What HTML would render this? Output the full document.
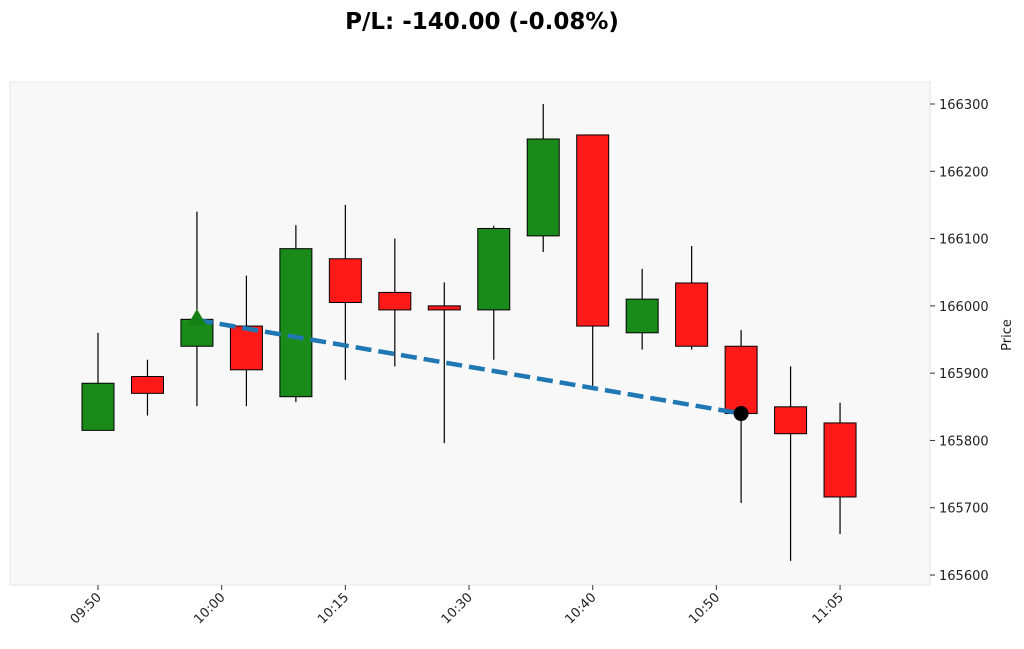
<!DOCTYPE html>
<html><head><meta charset="utf-8"><style>
body{margin:0;background:#fff;width:1024px;height:644px;overflow:hidden;font-family:"Liberation Sans","DejaVu Sans",sans-serif}
</style></head><body>
<svg id="chart" width="1024" height="644" font-family="DejaVu Sans, Liberation Sans, sans-serif">
<text x="482" y="29" text-anchor="middle" font-size="23" font-weight="bold">P/L: -140.00 (-0.08%)</text>
<rect x="10" y="82" width="920" height="503" fill="#f8f8f8" stroke="#e6e6e6"/>
<g id="yaxis"></g><g id="xaxis"></g><g id="candles"></g><g id="trade"></g>
<text transform="translate(1011,335) rotate(-90)" text-anchor="middle" font-size="13" fill="#222">Price</text>
</svg>
<script>
const opens=[165815,165895,165940,165970,165865,166070,166020,166000,165994,166104,166254,165960,166034,165940,165850,165826];
const highs=[165960,165920,166140,166045,166120,166150,166100,166035,166119,166300,166254,166055,166089,165964,165910,165856];
const lows=[165815,165837,165851,165851,165857,165890,165910,165796,165920,166080,165880,165935,165935,165707,165621,165661];
const closes=[165885,165870,165980,165905,166085,166005,165994,165994,166115,166248,165970,166010,165940,165840,165810,165716];
const yTicks=[165600,165700,165800,165900,166000,166100,166200,166300];
const xTickIdx=[0,2.5,5,7.5,10,12.5,15];
const xTickLabels=["09:50","10:00","10:15","10:30","10:40","10:50","11:05"];
const entryIdx=2, entryPrice=165979, exitIdx=13, exitPrice=165840;
const NS="http://www.w3.org/2000/svg";
const y=v=>104+(166300-v)*0.6729;
const x=i=>98+i*49.47;
function mk(p,tag,a){const e=document.createElementNS(NS,tag);for(const k in a)e.setAttribute(k,a[k]);document.getElementById(p).appendChild(e);return e;}
yTicks.forEach(t=>{
 const l=mk('yaxis','line',{x1:930,x2:935,y1:y(t),y2:y(t),stroke:'#333'});
 
 
 const tx=mk('yaxis','text',{x:939,y:y(t)+5,'font-size':13,fill:'#222'});tx.textContent=t;
 
 
});
xTickIdx.forEach((i,k)=>{
 const l=mk('xaxis','line',{x1:x(i),x2:x(i),y1:585,y2:590,stroke:'#333'});
 
 
 const tx=mk('xaxis','text',{'text-anchor':'end','font-size':13,fill:'#222',transform:`translate(${x(i)+4},${598}) rotate(-45)`});
 tx.textContent=xTickLabels[k];
 
 
});
opens.forEach((o,i)=>{
 const c=closes[i],up=c>=o,cx=x(i);
 const w=mk('candles','line',{x1:cx,x2:cx,y1:y(highs[i]),y2:y(lows[i]),stroke:'#000','stroke-width':1.2});
 
 
 const top=y(Math.max(o,c)),bot=y(Math.min(o,c));
 const r=mk('candles','rect',{x:cx-16,y:top,width:32,height:Math.max(1,bot-top),fill:up?'#1a8a1a':'#ff1a1a',stroke:'#000','stroke-width':1});
 
 
});
const ln=mk('trade','line',{x1:x(entryIdx),y1:y(entryPrice),x2:x(exitIdx),y2:y(exitPrice),stroke:'#1f77b4','stroke-width':4.5,'stroke-dasharray':'16,7'});


const ex=x(entryIdx),ey=y(entryPrice);
const tri=mk('trade','polygon',{points:`${ex},${ey-11} ${ex-10},${ey+6} ${ex+10},${ey+6}`,fill:'#148214'});


const dot=mk('trade','circle',{cx:x(exitIdx),cy:y(exitPrice),r:7.5,fill:'#000'});


</script>
</body></html>
